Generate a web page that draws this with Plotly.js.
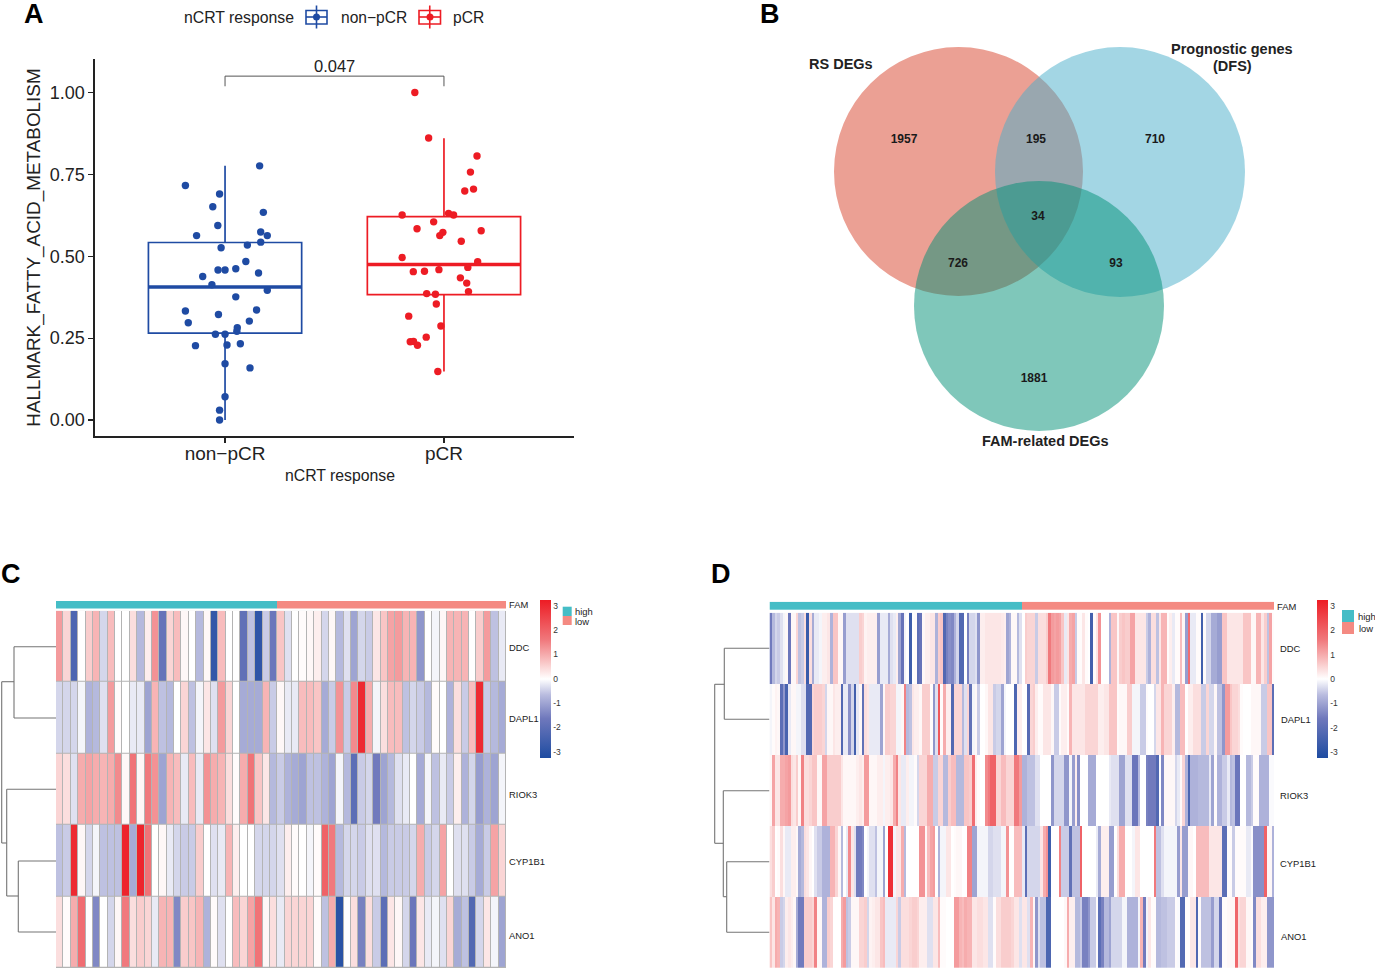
<!DOCTYPE html>
<html><head><meta charset="utf-8">
<script src="https://cdn.plot.ly/plotly-3.0.1.min.js"></script>
<style>html,body{margin:0;padding:0;background:#fff}#p{width:1375px;height:969px}</style>
</head><body><div id="p"></div>
<script>
// ---------- Panel A data ----------
const categoriesA = ['non\u2212pCR','pCR'];
const nonX = [.819,1.158,.975,.944,1.175,.967,.870,1.163,1.193,1.163,1.102,.982,1.095,.968,1.0,1.049,1.153,.898,.940,1.193,1.049,.819,.970,1.144,.832,1.111,1.056,1.054,.956,1.0,.865,1.009,1.070,1.0,1.114,1.0,.975,.975];
const nonY = [.716,.776,.690,.651,.634,.594,.563,.574,.563,.543,.534,.526,.484,.458,.458,.462,.449,.438,.413,.396,.376,.333,.322,.336,.297,.302,.282,.271,.262,.262,.227,.229,.233,.172,.159,.071,.030,0];
const pcrX = [1.867,1.930,2.151,2.121,2.135,2.095,1.809,2.021,2.044,1.953,1.877,2.170,1.995,1.981,2.079,1.809,2.154,2.109,1.977,1.860,1.911,2.075,2.104,2.112,1.921,1.961,1.965,1.839,1.986,1.919,1.846,1.861,1.879,1.972];
const pcrY = [1.0,.861,.806,.757,.705,.699,.626,.631,.626,.605,.584,.578,.573,.563,.546,.496,.483,.466,.459,.453,.454,.434,.418,.392,.386,.384,.354,.317,.287,.253,.239,.240,.228,.148];
const boxNon = {low:0, q1:.265, med:.406, q3:.542, high:.776};
const boxPcr = {low:.148, q1:.383, med:.475, q3:.621, high:.860};
const pValue = '0.047';

// ---------- Panel B data ----------
const vennCx = [958.5,1120,1039];
const vennCy = [171.5,172,306];
const vennR  = [124.5,125,125];
const vennColors = ['#D74129','#47ADC9','#008F75'];
const vennCounts = ['1957','195','710','34','726','93','1881'];
const vennCountX = [904,1036,1155,1038,958,1116,1034];
const vennCountY = [139.5,139.5,139.5,217,264,264,379];

// ---------- Heatmap common ----------
const rowNames = ['DDC','DAPL1','RIOK3','CYP1B1','ANO1'];
const famNames = ['high','low'];
const barTicks = [-3,-2,-1,0,1,2,3];
const barTickText = ['-3','-2','-1','0','1','2','3'];

// ---------- Panel C data (61 samples) ----------
const ddcC = [1.2,.5,-2.3,0,.6,.9,-.4,.8,0,0,.4,-.7,.2,1.3,-1.8,.5,.8,.1,0,-.7,.1,-2.8,.8,0,0,-1.9,-.6,-2.9,-.5,-1.7,.7,
  -.3,0,.05,.1,.2,-.4,.1,-.7,-.3,-1.0,-.4,-.5,.3,.7,1.1,1.2,.9,.9,-1.2,0,-.1,.1,.9,.9,.9,0,.6,1.2,-.6,-.2];
const dapl1C = [-.4,-.4,-.4,-.1,-.8,-.7,-.3,1.2,.05,0,-.2,-.2,-1.0,.9,-.6,-.7,0,.5,-.6,-.1,.3,-.3,1.2,.5,0,-.9,-.9,-.9,.9,-.5,.1,
  -.2,-.2,.8,.8,.7,-.9,-.5,1.3,-.5,1.4,3,1.0,-.1,.4,.8,.8,-.6,-.4,-.5,-.7,.05,0,-.8,.4,-.5,.8,3,-.5,-.7,-.9];
const riok3C = [.5,.4,-.3,1.0,1.1,1.0,.9,1.0,1.4,.1,1.7,.1,1.6,1.3,-1.0,.9,.8,-.2,.8,-.2,1.3,1.0,.9,.4,.05,1.0,1.7,.7,.3,-.7,-.5,
  -.8,-.9,-1.0,-.6,-.6,-.8,-1.0,-.1,-.7,-2.0,-.5,-.4,-1.6,-1.0,-.7,-.3,-.2,0,-.9,-.1,-.6,-.2,-.5,.2,-.8,-.4,-1.1,-.8,-1.0,-.1];
const cyp1b1C = [-.6,-.5,3,.1,-.4,-.1,-.6,-.6,-.6,3.1,-.9,3.1,1.7,0,.1,-.2,-.4,-.5,-.5,.6,0,-.3,-.2,.9,.2,0,0,-.4,-.4,-.4,-.3,
  .2,.05,0,-.1,.05,2,1.6,-.7,-.4,-.4,-.5,-.3,-.3,-.7,-.5,-.5,-.5,-.4,1,-.5,-.4,1.1,0,-.3,-.3,-.5,-.9,-.5,1.1,.5];
const ano1C = [.4,.05,1.0,1.8,0,-1.4,0,-.4,.1,1.6,.4,.6,.5,-.2,.9,.9,-1.4,.6,.7,.9,-.8,.05,-.3,0,.8,.5,1.1,1.7,.1,.4,-.2,
  .5,.5,.5,.5,.05,-.6,1.0,-3,0,.4,-1.5,.4,-.5,-2,.3,.1,-.4,-1.7,.3,-.2,-.1,-.3,.5,-.9,-.6,-2.2,-.4,.3,-.1,-1];
const famEdgesC = [0,30,61];

// ---------- Panel D data (192 samples) ----------
const ddcD = [
 -1.6,-.7,-.4,-.5,-.3,-.1,.1,-1.7,.1,.1,.5,-.6,-.5,.4,-2.7,.4,-.9,-.2,-.2,-.1,.2,.2,.3,-.8,.7,.7,.1,.1,-1.1,-.3,-.3,-.3,-.3,-.3,.6,.5,.15,.2,.2,.2,.2,-1.1,-.2,-.2,-.2,-.9,-.3,-.2,
 .2,-1.0,-1.8,-.1,0,-2.6,0,.05,-2.0,-1.8,.1,.2,.2,.3,.3,-.8,.6,.7,-2.2,-1.5,-1.3,-1.4,-.8,-.4,-2.2,-2.2,0,-1.5,-.4,-.4,-.3,-1.2,.2,.2,.3,.3,.3,.3,.3,.3,.25,.2,-1.0,-.8,.1,.1,-.7,-.3,
 0,.6,.5,.5,.5,-.5,.4,.4,.4,.6,1.6,1.2,1.1,1.2,1.1,.7,-.2,.3,1.0,1.1,-.5,.05,.05,.3,.05,0,-2.5,.05,.3,1.3,0,0,0,-.8,.7,.7,.1,.6,.7,.6,.6,1.1,1.1,.3,.3,.3,.3,-.5,
 -.8,.4,.4,-.6,.3,.9,.9,.05,.2,-.2,.05,.05,.8,.1,-1.1,1.8,-.2,-.2,.05,.05,-2.5,.05,-.4,-.4,-.9,-.9,-1.1,-1.1,.7,.7,.3,.3,.3,.3,.3,.3,.7,.7,.7,.1,.1,.9,.9,.3,.6,-.6,1.1,.05];
const dapl1D = [
 -.1,.05,.15,.1,-2.0,-1.2,-2.4,-.2,.1,.1,-.1,-.1,-.3,-.3,-2.2,-2.2,.5,.6,.6,.6,.5,-.4,.1,.1,.3,.2,.2,-2.2,-.2,-.2,-1.3,-.4,-2.5,-.2,.1,-1.9,.4,.3,-.2,-.2,-.2,-.2,-1.0,.1,.6,.6,.5,.5,
 -.1,-.1,.1,1.5,-.7,-.6,.3,.2,.2,.1,.6,.6,.6,.05,-1.2,-.3,2.2,.05,1.0,.2,.2,-2.2,.5,.5,.5,-.7,-.3,.5,-1.9,-.1,.1,-.5,0,0,.1,.3,.3,-.5,-.4,-.4,-1.0,-.1,0,0,0,-2.3,.2,.2,
 0,0,-2.1,.5,.6,.2,.05,.05,.3,.3,.3,.1,-.5,-.5,.05,.2,.2,.05,.9,.3,.3,.3,.3,.3,.5,.5,.5,.5,.5,.2,.2,.3,.3,.7,.7,.7,.05,.1,.1,.1,.6,.6,-.1,-.1,-.1,-.5,-.5,.05,
 0,0,-.4,.3,.3,.9,.5,.5,.5,.2,-.7,-.7,.8,.8,0,.2,.2,.4,.4,.4,-.5,-.5,.5,-.4,-.4,.1,-.6,-.6,-1.2,1.2,1.2,.7,.5,.5,.4,.05,0,0,0,.1,.1,.1,.1,-.5,-.5,.7,.7,-2.0];
const riok3D = [
 .1,1.1,.3,.3,1.0,1.0,1.1,1.2,.4,.3,.6,.1,1.5,.4,.4,.5,.7,.7,.1,.1,1.1,1.1,.6,.6,.6,.6,.6,.3,.1,.1,.1,.1,.1,.2,.3,.2,1.2,1.2,.1,.1,.1,.2,.2,-.1,.2,.2,.3,1.0,
 1.5,.3,-.2,-.2,.2,-.1,-.1,.05,-.4,.5,.5,.5,1.0,1.0,-.5,-.5,.5,.5,-.7,-.7,.6,.8,.8,-.7,-.7,-.7,.7,.7,.6,1.8,.2,.05,0,0,1.4,1.6,2.0,2.0,.5,.5,.8,.8,.5,.5,.5,1.6,1.6,1.2,
 -.8,-.8,-.6,-.6,-.6,-.3,-.3,0,0,0,0,-1.2,-.4,-.4,-.4,-.4,-1.2,-1.2,-.1,-1.1,.2,-1.3,0,0,0,-.9,-.9,-.9,0,0,0,0,0,-.2,-.3,-.3,-.3,-1.0,-1.0,-.3,-.3,-.3,-1.7,-1.7,-.7,0,0,-1.5,
 -1.6,-1.6,-1.6,-2.2,0,-1.4,.1,.1,.1,.1,-.4,-.2,.05,.5,-.8,-2.3,-.8,-.8,-.8,-.7,-.7,-.7,-.7,-.2,-1.0,.05,-.8,-.8,-.5,-.5,-.2,-.7,-.6,-1.7,-1.7,0,0,-.7,-.7,-.5,.05,.05,-.8,-.8,-.8,-.8,-.05,-.05];
const cyp1b1D = [
 .4,.6,0,.05,.4,.1,-.2,-.2,.2,.2,.1,-.9,-.7,.4,.3,.1,0,-.3,-.5,-.5,-.8,-.8,-.8,.9,.9,.5,.1,-.7,0,-.2,1.4,.3,-.3,-1.6,-1.6,-1.4,0,-.1,-.3,-.3,-.6,-.1,-.1,-1.0,0,2.9,2.9,-.1,
 .3,.3,1.0,-.7,0,0,0,0,0,1.3,1.3,.1,.8,1.1,1.2,0,-.8,-.1,-.1,.3,.3,0,.05,.1,.1,0,0,1.5,1.5,-1.0,-1.0,-.1,-.1,-.1,-.1,-.4,-.4,-.3,-.3,-.3,-.1,-.1,1.3,0,0,.8,.8,.8,
 -.2,-2.0,-.4,-.4,-.4,-.4,-.4,.3,1.0,1.3,-2.6,0,0,0,1.5,-.5,-.5,-.5,-1.9,-.6,-.6,-.6,2.0,0,0,0,0,0,-.2,-.9,.2,.2,.2,-1.1,-1.1,0,.4,1.0,1.0,0,0,0,-.1,.3,.3,0,0,0,
 0,0,1.6,-.6,-.6,-.3,-.1,-.1,-.1,-.1,-.1,-1.1,.3,-1.1,-1.1,.1,.1,0,.8,.8,.8,.8,.8,.3,.3,.3,.3,.3,-2.0,-2.0,.05,.05,-.5,.05,.05,.05,.05,-.2,-.2,-.05,-1.3,-1.3,-1.3,-1.3,2.0,.1,.1,-.8];
const ano1D = [
 .7,.3,1.0,.9,-.5,-.4,.2,.3,.2,.1,-.9,-1.6,-1.6,.6,.6,.6,.5,1.5,.1,.1,-.8,-.8,.6,.5,0,0,0,1.0,1.2,-.6,-.5,.1,.1,.1,.5,.5,.6,-.4,.15,.2,.3,.3,.7,.8,-.2,-.2,-.2,-.2,
 .5,-.5,.4,.4,.4,.5,.6,.6,.5,.2,.2,.2,-.3,-.3,.3,.3,.8,.05,.05,0,0,0,1.2,1.2,.9,.8,1.0,.9,.9,.3,.3,.4,.4,.3,.3,-.3,-.3,.05,.4,.4,.6,.6,.6,.6,.5,.3,.3,-.3,
 .3,.3,-.3,.9,.1,-1.2,-.3,-.6,-.6,-2.3,-2.3,0,0,0,0,0,.1,1.0,.2,.2,-.7,-.7,-.5,-1.5,-1.5,-1.2,-.5,-.5,.05,-2.0,-1.5,-.7,-.7,-1.0,-.4,-.4,-.4,-.4,-.1,-.1,-.8,-.8,-.8,-.8,-.1,.9,-1.6,-.1,
 .3,.05,.05,-.7,-.7,-.6,-.6,-.5,-.5,-.5,.05,-.05,-2.2,-2.2,.05,.05,.3,.3,-2.2,.05,-.6,-.6,-.6,-.6,-1.1,-.4,-.4,-1.8,.05,.05,.1,.1,.1,1.9,.4,.5,.5,.1,.1,.05,-1.4,.4,.4,.2,.2,-1.2,-1.2,-1.2];
const famEdgesD = [0,96,192];

// ---------- Dendrograms ----------
const dendroCX = [1.7,1.7,null,1.7,14,null,14,14,null,14,56,null,14,56,null,1.7,6.7,null,6.7,6.7,null,6.7,56,null,6.7,18.3,null,18.3,18.3,null,18.3,56,null,18.3,56];
const dendroCY = [681.7,843,null,681.7,681.7,null,646.7,718,null,646.7,646.7,null,718,718,null,843,843,null,789.3,896,null,789.3,789.3,null,896,896,null,861,932,null,861,861,null,932,932];
const dendroDX = [714.7,714.7,null,714.7,724.3,null,724.3,724.3,null,724.3,769.3,null,724.3,769.3,null,714.7,723.3,null,723.3,723.3,null,723.3,769.3,null,723.3,726.7,null,726.7,726.7,null,726.7,769.3,null,726.7,769.3];
const dendroDY = [684.3,843.3,null,684.3,684.3,null,648.3,719.3,null,648.3,648.3,null,719.3,719.3,null,843.3,843.3,null,790.7,896.7,null,790.7,790.7,null,896.7,896.7,null,861.7,932.3,null,861.7,861.7,null,932.3,932.3];

// ---------- Styles ----------
const W=1375,H=969;
const FONT='"Liberation Sans", Arial, sans-serif';
const BLUE='#1F4BA3',RED='#ED1C24',TEAL='#45BDC6',PINK='#F48A82';
const heatScale=[[0,'#1E4CA1'],[.25,'#6F78BC'],[.4,'#B9BCDF'],[.5,'#FFFFFF'],[.6,'#F9C9C9'],[.75,'#F0777B'],[1,'#ED1C24']];
const dx=(a,b)=>[a/W,b/W], dy=(top,bot)=>[1-bot/H,1-top/H];
const hidden=(extra)=>Object.assign({visible:false,showgrid:false,zeroline:false,fixedrange:true},extra);

function box(b,x,c){return {type:'box',x:[x],q1:[b.q1],median:[b.med],q3:[b.q3],lowerfence:[b.low],upperfence:[b.high],
  width:.7,whiskerwidth:0,boxpoints:false,fillcolor:'rgba(0,0,0,0)',line:{color:c,width:1.7},xaxis:'x',yaxis:'y',hoverinfo:'skip'};}
function med(b,x,c){return {type:'scatter',mode:'lines',x:[x-.35,x+.35],y:[b.med,b.med],line:{color:c,width:3.4},xaxis:'x',yaxis:'y'};}
function heat(z,ax,ay,gap,bar){return {type:'heatmap',z:z,y:rowNames,xaxis:ax,yaxis:ay,zmin:-3.25,zmax:3.25,colorscale:heatScale,
  xgap:gap,ygap:gap,hoverinfo:'skip',showscale:true,colorbar:bar};}
function cbar(x,yc){return {x:x/W,xanchor:'left',y:1-yc/H,yanchor:'middle',thicknessmode:'pixels',thickness:10.5,lenmode:'pixels',len:157.5,
  xpad:0,ypad:0,outlinewidth:0,borderwidth:0,tickvals:barTicks,ticktext:barTickText,ticks:'',ticklabelposition:'outside',tickfont:{family:FONT,size:8.5,color:'#333'}};}
function fam(edges,ax,ay){return {type:'heatmap',z:[[0,1]],x:edges,y:['FAM'],xaxis:ax,yaxis:ay,zmin:0,zmax:1,showscale:false,hoverinfo:'skip',
  colorscale:[[0,TEAL],[.5,TEAL],[.5,PINK],[1,PINK]]};}
function dendro(x,y){return {type:'scatter',mode:'lines',x:x,y:y,line:{color:'#757575',width:1.1},xaxis:'x2',yaxis:'y2',connectgaps:false};}

const traces=[
  box(boxNon,1,BLUE),box(boxPcr,2,RED),med(boxNon,1,BLUE),med(boxPcr,2,RED),
  {type:'scatter',mode:'markers',x:nonX,y:nonY,marker:{color:BLUE,size:7.4},xaxis:'x',yaxis:'y'},
  {type:'scatter',mode:'markers',x:pcrX,y:pcrY,marker:{color:RED,size:7.4},xaxis:'x',yaxis:'y'},
  {type:'scatter',mode:'lines',x:[1,1,2,2],y:[1.019,1.05,1.05,1.019],line:{color:'#555',width:1},xaxis:'x',yaxis:'y'},
  {type:'scatter',mode:'markers',x:[316.5],y:[17],marker:{color:BLUE,size:7},xaxis:'x2',yaxis:'y2'},
  {type:'scatter',mode:'markers',x:[430],y:[17],marker:{color:RED,size:7},xaxis:'x2',yaxis:'y2'},
  {type:'scatter',mode:'text',x:vennCountX,y:vennCountY,text:vennCounts,textposition:'middle center',
    textfont:{family:FONT,size:12,color:'#1a1a1a',weight:700},xaxis:'x2',yaxis:'y2'},
  dendro(dendroCX,dendroCY),dendro(dendroDX,dendroDY),
  heat([ddcC,dapl1C,riok3C,cyp1b1C,ano1C],'x3','y3',1,cbar(540,678.7)),
  fam(famEdgesC,'x4','y4'),
  heat([ddcD,dapl1D,riok3D,cyp1b1D,ano1D],'x5','y5',0,cbar(1316.7,679)),
  fam(famEdgesD,'x6','y6')
];

const shapes=[];
vennCx.forEach((c,i)=>shapes.push({type:'circle',xref:'x2',yref:'y2',x0:c-vennR[i],x1:c+vennR[i],y0:vennCy[i]-vennR[i],y1:vennCy[i]+vennR[i],
  fillcolor:vennColors[i],opacity:.5,line:{width:0},layer:'below'}));
function key(x0,x1,c){const m=(x0+x1)/2;
  shapes.push({type:'rect',xref:'x2',yref:'y2',x0:x0,x1:x1,y0:10.5,y1:24,line:{color:c,width:1.6},fillcolor:'rgba(0,0,0,0)'});
  shapes.push({type:'line',xref:'x2',yref:'y2',x0:m,x1:m,y0:5.5,y1:28.5,line:{color:c,width:1.6}});
  shapes.push({type:'line',xref:'x2',yref:'y2',x0:x0,x1:x1,y0:17,y1:17,line:{color:c,width:1.6}});}
key(306,327,BLUE);key(419,440.5,RED);
shapes.push({type:'rect',xref:'x3',yref:'y3',x0:-.5,x1:60.5,y0:-.5,y1:4.5,fillcolor:'#B4B4B4',line:{width:0},layer:'below'});
[[562.7,571.7,606.7,616,TEAL],[562.7,571.7,616,625,PINK],[1342,1354,610,622,TEAL],[1342,1354,622,634,PINK]].forEach(s=>
  shapes.push({type:'rect',xref:'x2',yref:'y2',x0:s[0],x1:s[1],y0:s[2],y1:s[3],fillcolor:s[4],line:{width:0}}));

function ann(text,x,y,size,opt){return Object.assign({text:text,xref:'x2',yref:'y2',x:x,y:y,showarrow:false,xanchor:'left',yanchor:'middle',
  font:{family:FONT,size:size,color:'#222'},borderpad:0},opt||{});}
const bold=(sz,c)=>({family:FONT,size:sz,color:c||'#111',weight:700});
const annotations=[
  ann('A',23,14,27,{font:bold(27,'#000')}),ann('B',759,14,27,{font:bold(27,'#000')}),
  ann('C',0,573.5,27,{font:bold(27,'#000')}),ann('D',710,573.5,27,{font:bold(27,'#000')}),
  {text:pValue,xref:'x',yref:'y',x:1.5,y:1.081,showarrow:false,font:{family:FONT,size:16.5,color:'#222'}},
  ann('nCRT response',183,17,15.8),ann(categoriesA[0],339.5,17,15.6),ann(categoriesA[1],452,17,15.6),
  ann('nCRT response',339.5,475.5,15.8,{xanchor:'center'}),
  ann('RS DEGs',841,64,14.5,{xanchor:'center',font:bold(14.5,'#222')}),
  ann('Prognostic genes',1232,49,14.5,{xanchor:'center',font:bold(14.5,'#222')}),
  ann('(DFS)',1232,66,14.5,{xanchor:'center',font:bold(14.5,'#222')}),
  ann('FAM-related DEGs',1045.5,441,14.5,{xanchor:'center',font:bold(14.5,'#222')}),
  ann('FAM',508,604.5,9.4),ann(rowNames[0],508,647,9.4),ann(rowNames[1],508,718,9.4),ann(rowNames[2],508,794.5,9.4),ann(rowNames[3],508,861.5,9.4),ann(rowNames[4],508,935,9.4),
  ann('FAM',1276,606,9.4),ann(rowNames[0],1279,648,9.4),ann(rowNames[1],1280,719,9.4),ann(rowNames[2],1279,795.5,9.4),ann(rowNames[3],1279,863,9.4),ann(rowNames[4],1280,936,9.4),
  ann(famNames[0],574,611,9.4),ann(famNames[1],574,621,9.4),
  ann(famNames[0],1357,616,9.4),ann(famNames[1],1358,628,9.4)
];

const layout={
  width:W,height:H,margin:{l:0,r:0,t:0,b:0,pad:0},paper_bgcolor:'#fff',plot_bgcolor:'rgba(0,0,0,0)',showlegend:false,hovermode:false,
  font:{family:FONT},boxmode:'overlay',
  xaxis:{domain:dx(95,574),range:[.406,2.594],tickvals:[1,2],ticktext:categoriesA,showgrid:false,zeroline:false,showline:true,linecolor:'#222',linewidth:1.6,
    ticks:'outside',ticklen:5,tickwidth:1.2,tickcolor:'#222',ticklabelstandoff:-5,tickfont:{family:FONT,size:19,color:'#222'}},
  yaxis:{domain:dy(59,436),range:[-.0489,1.1023],tickvals:[0,.25,.5,.75,1],ticktext:['0.00','0.25','0.50','0.75','1.00'],showgrid:false,zeroline:false,showline:true,linecolor:'#222',linewidth:1.6,
    ticks:'outside',ticklen:5,tickwidth:1.2,tickcolor:'#222',tickfont:{family:FONT,size:18,color:'#222'},
    title:{text:'HALLMARK_FATTY_ACID_METABOLISM',font:{family:FONT,size:18.9,color:'#222'},standoff:4}},
  xaxis2:hidden({domain:[0,1],range:[0,W],anchor:'y2'}),
  yaxis2:hidden({domain:[0,1],range:[H,0],anchor:'x2'}),
  xaxis3:hidden({domain:dx(56,506),range:[-.5,60.5],anchor:'y3'}),
  yaxis3:hidden({domain:dy(610.7,968),type:'category',range:[4.5,-.5],anchor:'x3'}),
  xaxis4:hidden({domain:dx(56,506),range:[0,61],anchor:'y4'}),
  yaxis4:hidden({domain:dy(601,608.5),type:'category',anchor:'x4'}),
  xaxis5:hidden({domain:dx(769.5,1274),range:[-.5,191.5],anchor:'y5'}),
  yaxis5:hidden({domain:dy(612.7,968),type:'category',range:[4.5,-.5],anchor:'x5'}),
  xaxis6:hidden({domain:dx(769.5,1274),range:[0,192],anchor:'y6'}),
  yaxis6:hidden({domain:dy(601.7,610),type:'category',anchor:'x6'}),
  shapes:shapes,annotations:annotations
};
Plotly.newPlot('p',traces,layout,{displayModeBar:false,staticPlot:true});
</script></body></html>
